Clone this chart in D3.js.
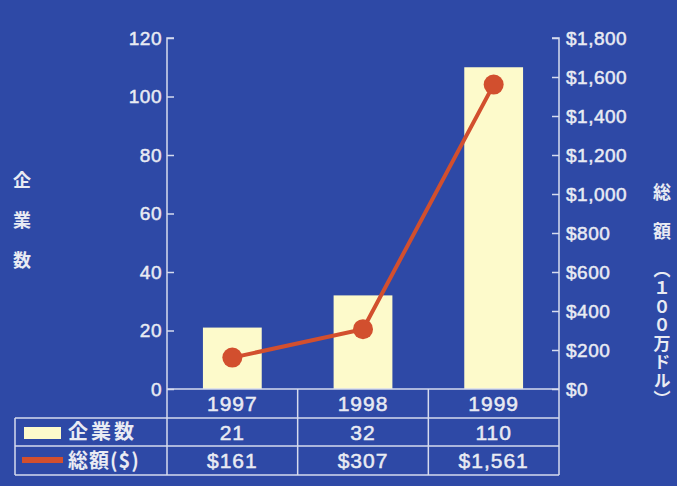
<!DOCTYPE html>
<html>
<head>
<meta charset="utf-8">
<script src="https://cdn.jsdelivr.net/npm/d3@7"></script>
<style>
  html, body { margin: 0; padding: 0; background: #2e49a6; }
  svg { display: block; }
  .num { font-family: "Liberation Sans", Arial, sans-serif; fill: #e9ebf3; stroke: #e9ebf3; stroke-width: 0.5px; }
  .jp { font-family: "Noto Sans CJK JP", sans-serif; font-weight: bold; fill: #e9ebf3; }
</style>
</head>
<body>
<div id="svg_container"></div>
<script>
// chart data
const years = ["1997", "1998", "1999"];
const companies = [21, 32, 110];          // 企業数
const totals = [161, 307, 1561];          // 総額 (100万ドル)
const leftTicks = [0, 20, 40, 60, 80, 100, 120];
const rightTicks = [0, 200, 400, 600, 800, 1000, 1200, 1400, 1600, 1800];

function createChart() {
    let width = 677;
    let height = 486;
    const svg = d3.select('#svg_container').append("svg")
        .attr("width", width)
        .attr("height", height);

    svg.append("rect")
        .attr("width", width)
        .attr("height", height)
        .attr("fill", "#2e49a6");

    const left = 167, right = 559, top = 38, bottom = 389;
    const lineColor = "#d6dbee";

    const x = d3.scaleBand().domain(years).range([left, right]);
    const yL = d3.scaleLinear().domain([0, 120]).range([bottom, top]);
    const yR = d3.scaleLinear().domain([0, 1800]).range([bottom, top]);

    // bars
    const barW = x.bandwidth() * 0.45;
    svg.append("g")
        .attr("fill", "#fdfacb")
        .selectAll("rect")
        .data(years)
        .join("rect")
        .attr("x", (d) => x(d) + (x.bandwidth() - barW) / 2)
        .attr("y", (d, i) => yL(companies[i]))
        .attr("width", barW)
        .attr("height", (d, i) => bottom - yL(companies[i]));

    // left axis
    const axL = svg.append("g")
        .attr("transform", `translate(${left},0)`)
        .call(d3.axisRight(yL).tickValues(leftTicks).tickSize(7).tickFormat(""));
    axL.selectAll("line, path").attr("stroke", lineColor).attr("stroke-width", 1.5);
    axL.select("path").attr("d", `M7,${top}H0V${bottom}`);
    svg.append("g")
        .selectAll("text")
        .data(leftTicks)
        .join("text")
        .attr("class", "num")
        .attr("x", left - 5)
        .attr("y", (d) => yL(d))
        .attr("dy", "0.36em")
        .attr("text-anchor", "end")
        .attr("font-size", 19)
        .attr("letter-spacing", 0.5)
        .text((d) => d);

    // right axis
    const axR = svg.append("g")
        .attr("transform", `translate(${right},0)`)
        .call(d3.axisLeft(yR).tickValues(rightTicks).tickSize(7).tickFormat(""));
    axR.selectAll("line, path").attr("stroke", lineColor).attr("stroke-width", 1.5);
    axR.select("path").attr("d", `M-7,${top}H0V${bottom}`);
    svg.append("g")
        .selectAll("text")
        .data(rightTicks)
        .join("text")
        .attr("class", "num")
        .attr("x", right + 7)
        .attr("y", (d) => yR(d))
        .attr("dy", "0.36em")
        .attr("font-size", 19)
        .attr("letter-spacing", 0.5)
        .text((d) => "$" + d3.format(",")(d));

    // line + dots
    const line = d3.line()
        .x((d, i) => x(years[i]) + x.bandwidth() / 2)
        .y((d) => yR(d));
    svg.append("path")
        .datum(totals)
        .attr("fill", "none")
        .attr("stroke", "#d24f2e")
        .attr("stroke-width", 4)
        .attr("d", line);
    svg.append("g")
        .attr("fill", "#d24f2e")
        .selectAll("circle")
        .data(totals)
        .join("circle")
        .attr("cx", (d, i) => x(years[i]) + x.bandwidth() / 2)
        .attr("cy", (d) => yR(d))
        .attr("r", 10);

    // axis titles (vertical)
    svg.append("text")
        .attr("class", "jp")
        .attr("x", 22).attr("y", 171)
        .attr("font-size", 18)
        .attr("letter-spacing", 22)
        .style("writing-mode", "vertical-rl")
        .text("企業数");
    svg.append("text")
        .attr("class", "jp")
        .attr("x", 662).attr("y", 183)
        .attr("font-size", 18)
        .attr("letter-spacing", 21)
        .style("writing-mode", "vertical-rl")
        .text("総額");
    svg.append("text")
        .attr("class", "jp")
        .attr("x", 662).attr("y", 261)
        .attr("font-size", 17)
        .attr("letter-spacing", 1.5)
        .style("writing-mode", "vertical-rl")
        .text("（１００万ドル）");

    // data table
    const tLeft = 15, row0 = bottom, row1 = 418, row2 = 446, row3 = 475;
    const grid = svg.append("g")
        .attr("stroke", lineColor)
        .attr("stroke-width", 1.5)
        .attr("fill", "none");
    grid.append("line").attr("x1", left).attr("x2", right).attr("y1", row0).attr("y2", row0);
    grid.append("line").attr("x1", tLeft).attr("x2", right).attr("y1", row1).attr("y2", row1);
    grid.append("line").attr("x1", tLeft).attr("x2", right).attr("y1", row2).attr("y2", row2);
    grid.append("line").attr("x1", tLeft).attr("x2", right).attr("y1", row3).attr("y2", row3);
    grid.append("line").attr("x1", tLeft).attr("x2", tLeft).attr("y1", row1).attr("y2", row3);
    grid.selectAll(".col")
        .data(years.concat(["end"]))
        .join("line")
        .attr("class", "col")
        .attr("x1", (d) => d === "end" ? right : x(d))
        .attr("x2", (d) => d === "end" ? right : x(d))
        .attr("y1", row0)
        .attr("y2", row3);

    const cx = (d) => x(d) + x.bandwidth() / 2;
    const rows = [
        { y: (row0 + row1) / 2, vals: years },
        { y: (row1 + row2) / 2, vals: companies.map(String) },
        { y: (row2 + row3) / 2, vals: totals.map((v) => "$" + d3.format(",")(v)) }
    ];
    rows.forEach((r) => {
        svg.append("g")
            .selectAll("text")
            .data(r.vals)
            .join("text")
            .attr("class", "num")
            .attr("x", (d, i) => cx(years[i]))
            .attr("y", r.y)
            .attr("dy", "0.36em")
            .attr("text-anchor", "middle")
            .attr("font-size", 21)
            .attr("letter-spacing", 1)
            .text((d) => d);
    });

    // legend cells
    svg.append("rect")
        .attr("x", 24).attr("y", 427)
        .attr("width", 37).attr("height", 12)
        .attr("fill", "#fdfacb");
    svg.append("rect")
        .attr("x", 22).attr("y", 457)
        .attr("width", 41).attr("height", 6)
        .attr("fill", "#d24f2e");
    svg.append("text")
        .attr("class", "jp")
        .attr("x", 68).attr("y", (row1 + row2) / 2)
        .attr("dy", "0.36em")
        .attr("font-size", 20)
        .attr("letter-spacing", 3)
        .text("企業数");
    svg.append("text")
        .attr("class", "jp")
        .attr("x", 68).attr("y", (row2 + row3) / 2)
        .attr("dy", "0.36em")
        .attr("font-size", 20)
        .attr("letter-spacing", 1)
        .text("総額($)");
}

document.addEventListener('DOMContentLoaded', function (e) {
    createChart();
});
</script>
</body>
</html>
